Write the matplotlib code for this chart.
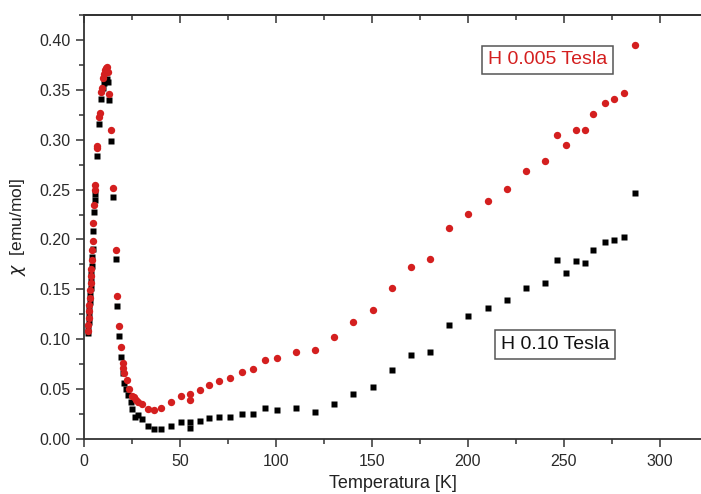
import numpy as np
import matplotlib
matplotlib.use("Agg")
import matplotlib.pyplot as plt
from matplotlib.ticker import MultipleLocator, FormatStrFormatter, NullFormatter

plt.rcParams['font.family'] = ['Liberation Sans', 'DejaVu Sans']

# H = 0.005 Tesla (red circles)
t_low = [2.0, 2.2, 2.4, 2.6, 2.8, 3.0, 3.2, 3.4, 3.6, 3.8, 4.0, 4.3, 4.6, 4.9, 5.2, 5.5, 5.8,
         6.9, 7.0, 8.0, 8.1, 9.0, 9.2, 9.8, 10.3, 10.8, 11.3, 11.8, 12.4, 13.2, 14.0, 15.3,
         16.5, 17.4, 18.2, 19.3, 20.1, 20.3, 20.9, 22.2, 23.6, 24.8, 26.0, 27.0, 28.3, 30.0,
         33.5, 36.6, 40.1, 45.1, 50.3, 55.2, 55.2, 60.4, 65.3, 70.3, 76.2, 82.1, 88.0, 94.3,
         100.3, 110.4, 120.3, 130.2, 140.3, 150.3, 160.2, 170.3, 180.2, 190.3, 200.2, 210.3,
         220.1, 230.2, 240.3, 246.2, 251.0, 256.1, 261.1, 265.3, 271.4, 276.2, 281.4, 287.0]
chi_low = [0.108, 0.114, 0.121, 0.128, 0.134, 0.141, 0.149, 0.156, 0.163, 0.170, 0.179, 0.189,
           0.198, 0.217, 0.235, 0.250, 0.255,
           0.292, 0.294, 0.323, 0.327, 0.348, 0.352, 0.362, 0.366, 0.370, 0.372, 0.373, 0.368,
           0.346, 0.310, 0.252, 0.189, 0.143, 0.113, 0.0925, 0.076, 0.071, 0.066, 0.059, 0.050,
           0.043, 0.042, 0.039, 0.037, 0.035, 0.030, 0.029, 0.031, 0.037, 0.043, 0.045, 0.039,
           0.049, 0.054, 0.058, 0.061, 0.067, 0.070, 0.079, 0.081, 0.0875, 0.089, 0.102, 0.117,
           0.129, 0.151, 0.172, 0.180, 0.212, 0.226, 0.239, 0.251, 0.269, 0.279, 0.305, 0.295,
           0.310, 0.310, 0.326, 0.337, 0.341, 0.347, 0.395]

# H = 0.10 Tesla (black squares)
t_high = [2.0, 2.2, 2.4, 2.6, 2.8, 3.0, 3.2, 3.4, 3.6, 3.8, 4.0, 4.3, 4.6, 4.9, 5.2, 5.5, 5.8,
          6.9, 8.0, 9.1, 9.8, 10.3, 10.8, 11.3, 11.8, 12.4, 13.2, 14.0, 15.3, 16.5, 17.4, 18.2,
          19.3, 20.1, 20.9, 22.0, 22.7, 24.3, 25.0, 26.5, 28.3, 30.0, 33.5, 36.6, 40.1, 45.1,
          50.3, 55.2, 55.2, 60.4, 65.3, 70.3, 76.2, 82.1, 88.0, 94.3, 100.3, 110.4, 120.3,
          130.2, 140.3, 150.3, 160.2, 170.1, 180.2, 190.3, 200.2, 210.3, 220.1, 230.2, 240.3,
          246.2, 251.0, 256.1, 261.1, 265.3, 271.4, 276.2, 281.4, 287.0]
chi_high = [0.106, 0.111, 0.117, 0.124, 0.130, 0.137, 0.144, 0.151, 0.158, 0.165, 0.173, 0.182,
            0.190, 0.209, 0.228, 0.240, 0.246,
            0.284, 0.316, 0.341, 0.352, 0.357, 0.359, 0.360, 0.361, 0.358, 0.340, 0.299, 0.243,
            0.180, 0.133, 0.103, 0.0825, 0.066, 0.0565, 0.050, 0.044, 0.037, 0.030, 0.022, 0.024,
            0.020, 0.013, 0.010, 0.010, 0.013, 0.017, 0.017, 0.011, 0.018, 0.021, 0.022, 0.022,
            0.025, 0.025, 0.031, 0.029, 0.031, 0.027, 0.035, 0.045, 0.052, 0.069, 0.0845, 0.087,
            0.1146, 0.123, 0.131, 0.139, 0.151, 0.156, 0.179, 0.166, 0.178, 0.176, 0.189, 0.197,
            0.199, 0.202, 0.247]

label_low = "H 0.005 Tesla"
label_high = "H 0.10 Tesla"

fig = plt.figure(figsize=(7.01, 4.94), dpi=100)
ax = fig.add_axes([0.1198, 0.1113, 0.8802, 0.8583])

ax.plot(t_high, chi_high, 's', color='black', ms=4.6, mec='none')
ax.plot(t_low, chi_low, 'o', color='#d41f1f', ms=5.3, mec='none')

ax.set_xlim(0, 321.4)
ax.set_ylim(0, 0.425)
ax.xaxis.set_major_locator(MultipleLocator(50))
ax.xaxis.set_minor_locator(MultipleLocator(25))
ax.yaxis.set_major_locator(MultipleLocator(0.05))
ax.yaxis.set_minor_locator(MultipleLocator(0.025))
ax.yaxis.set_major_formatter(FormatStrFormatter('%.2f'))

for s in ['left', 'bottom', 'top']:
    ax.spines[s].set_color('#333333')
    ax.spines[s].set_linewidth(1.3)
ax.spines['right'].set_visible(False)

ax.tick_params(which='both', direction='out', color='#333333', width=1.1,
               labelsize=11.5, labelcolor='#2a2a2a')
ax.tick_params(which='major', length=6)
ax.tick_params(which='minor', length=3.5)
ax.tick_params(axis='x', pad=5)

# top axis: ticks pointing into the plot, no labels
top = ax.secondary_xaxis('top')
top.xaxis.set_major_locator(MultipleLocator(50))
top.xaxis.set_minor_locator(MultipleLocator(25))
top.xaxis.set_major_formatter(NullFormatter())
top.tick_params(which='both', direction='in', color='#333333', width=1.1)
top.tick_params(which='major', length=6)
top.tick_params(which='minor', length=3.5)
top.spines['top'].set_color('#333333')
top.spines['top'].set_linewidth(1.3)

ax.set_xlabel("Temperatura [K]", fontsize=13, color='#222222', labelpad=4)
ax.set_ylabel(r"$\chi$  [emu/mol]", fontsize=12.5, color='#222222', labelpad=8)

ax.text(241.5, 0.380, label_low, color='#d41f1f', fontsize=14, ha='center', va='center',
        bbox=dict(boxstyle='square,pad=0.3', fc='white', ec='#555555', lw=1.1))
ax.text(245.5, 0.095, label_high, color='#111111', fontsize=14, ha='center', va='center',
        bbox=dict(boxstyle='square,pad=0.3', fc='white', ec='#555555', lw=1.1))

fig.savefig("out.png", dpi=100)
